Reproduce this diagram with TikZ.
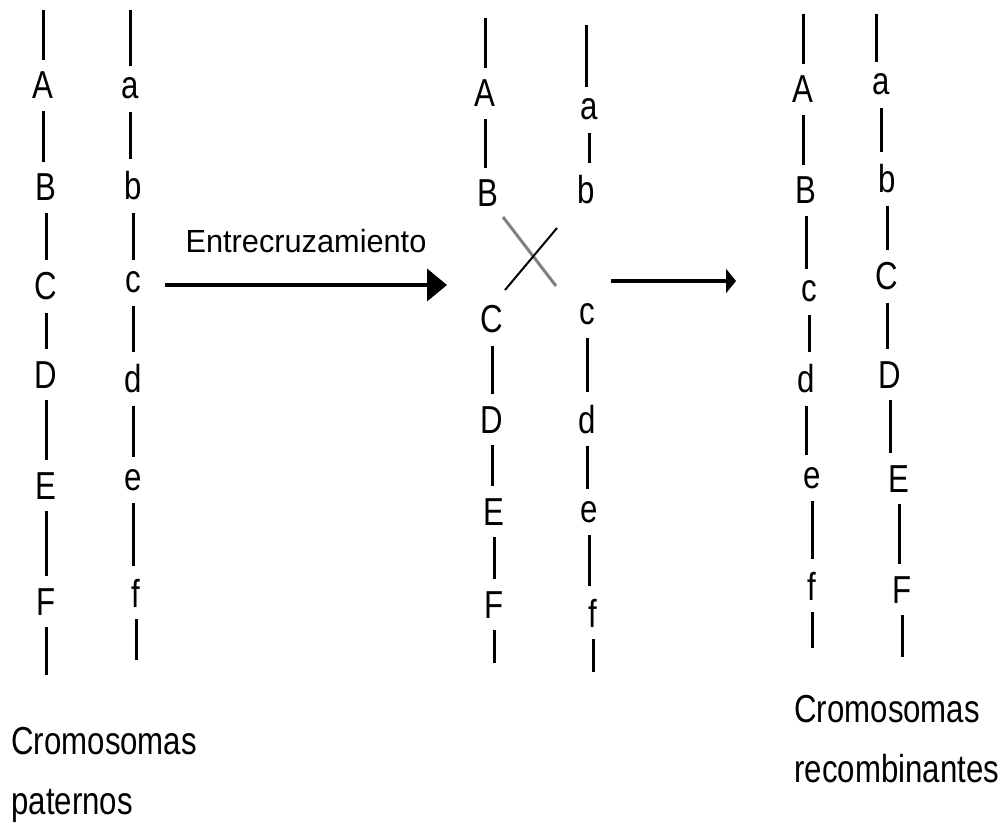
\documentclass[tikz,border=0pt]{standalone}
\usepackage{fontspec}
\usepackage{tikz}
\usetikzlibrary{arrows.meta}

\newfontfamily\genefont[FakeStretch=0.8]{Liberation Sans}
\newfontfamily\cruzfont[FakeStretch=0.96]{Liberation Sans}

\tikzset{
  gen/.style={font=\genefont\fontsize{19.5}{23}\selectfont, anchor=base,
              inner xsep=0pt, inner ysep=6pt},
  brazo/.style={line width=1.5pt},
  rotulo/.style={font=\genefont\fontsize{19.5}{30}\selectfont, align=left,
                 anchor=north west, inner sep=0pt},
  flecha/.style={line width=2pt, -{Triangle[length=10pt,width=16pt]}},
  flechita/.style={line width=2pt, -{Triangle[length=5pt,width=12pt]}},
}

\begin{document}
\begin{tikzpicture}[x=0.5pt,y=-0.5pt]
\useasboundingbox (0,0) rectangle (1006,823);

% cromosomas paternos
\coordinate (P1-top) at (43,10);
\coordinate (P1-bot) at (46,675);
\foreach \g/\x/\y in {A/43/99,B/46/201,C/46/300,D/46/388,E/46/499,F/46/615}
  \node[gen] (P1-\g) at (\x,\y) {\g};
\draw[brazo] (P1-top) -- (P1-top |- P1-A.north);
\foreach \u/\v in {A/B,B/C,C/D,D/E,E/F}
  \draw[brazo] (P1-\u.south) -- (P1-\u.south |- P1-\v.north);
\draw[brazo] (P1-F.south) -- (P1-F.south |- P1-bot);

\coordinate (P2-top) at (130,10);
\coordinate (P2-bot) at (136,660);
\foreach \g/\x/\y in {a/130/99,b/133/200,c/133/293,d/133/393,e/133/490,f/136/607}
  \node[gen] (P2-\g) at (\x,\y) {\g};
\draw[brazo] (P2-top) -- (P2-top |- P2-a.north);
\foreach \u/\v in {a/b,b/c,c/d,d/e,e/f}
  \draw[brazo] (P2-\u.south) -- (P2-\u.south |- P2-\v.north);
\draw[brazo] (P2-f.south) -- (P2-f.south |- P2-bot);

\node[rotulo] (pat) at (11,727) {Cromosomas\\paternos};

% entrecruzamiento
\coordinate (f1) at (165,285);
\coordinate (f2) at (447,285);
\draw[flecha] (f1) -- node[above=15pt, inner sep=0pt,
  font=\cruzfont\fontsize{16}{19}\selectfont] (cruz) {Entrecruzamiento} (f2);

\coordinate (X1-top) at (485,18);
\coordinate (X1-bot) at (494,663);
\foreach \g/\x/\y in {A/485/107,B/488/207,C/492/333,D/492/433,E/494/525,F/494/618}
  \node[gen] (X1-\g) at (\x,\y) {\g};
\draw[brazo] (X1-top) -- (X1-top |- X1-A.north);
\foreach \u/\v in {A/B,C/D,D/E,E/F}
  \draw[brazo] (X1-\u.south) -- (X1-\u.south |- X1-\v.north);
\draw[brazo] (X1-F.south) -- (X1-F.south |- X1-bot);

\coordinate (X2-top) at (586,25);
\coordinate (X2-bot) at (593,672);
\foreach \g/\x/\y in {a/589/120,b/586/204,c/587/325,d/587/433,e/589/522,f/593/627}
  \node[gen] (X2-\g) at (\x,\y) {\g};
\draw[brazo] (X2-top) -- (X2-top |- X2-a.north);
\foreach \u/\v in {a/b,c/d,d/e,e/f}
  \draw[brazo] (X2-\u.south) -- (X2-\u.south |- X2-\v.north);
\draw[brazo] (X2-f.south) -- (X2-f.south |- X2-bot);

% quiasma
\coordinate (q1) at (503,217);
\coordinate (q2) at (556,286);
\coordinate (q3) at (557,228);
\coordinate (q4) at (505,290);
\draw[line width=1.5pt, gray] (q1) -- (q2);
\draw[line width=1pt] (q3) -- (q4);

\coordinate (f3) at (611,281);
\coordinate (f4) at (736,281);
\draw[flechita] (f3) -- (f4);

% cromosomas recombinantes
\coordinate (R1-top) at (803,14);
\coordinate (R1-bot) at (812,648);
\foreach \g/\x/\y in {A/803/103,B/806/204,c/809/302,d/806/393,e/812/488,f/812/600}
  \node[gen] (R1-\g) at (\x,\y) {\g};
\draw[brazo] (R1-top) -- (R1-top |- R1-A.north);
\foreach \u/\v in {A/B,B/c,c/d,d/e,e/f}
  \draw[brazo] (R1-\u.south) -- (R1-\u.south |- R1-\v.north);
\draw[brazo] (R1-f.south) -- (R1-f.south |- R1-bot);

\coordinate (R2-top) at (876,14);
\coordinate (R2-bot) at (902,657);
\foreach \g/\x/\y in {a/881/95,b/887/193,C/887/290,D/890/388,E/899/492,F/902/603}
  \node[gen] (R2-\g) at (\x,\y) {\g};
\draw[brazo] (R2-top) -- (R2-top |- R2-a.north);
\foreach \u/\v in {a/b,b/C,C/D,D/E,E/F}
  \draw[brazo] (R2-\u.south) -- (R2-\u.south |- R2-\v.north);
\draw[brazo] (R2-F.south) -- (R2-F.south |- R2-bot);

\node[rotulo] (rec) at (794,695) {Cromosomas\\recombinantes};
\end{tikzpicture}
\end{document}
